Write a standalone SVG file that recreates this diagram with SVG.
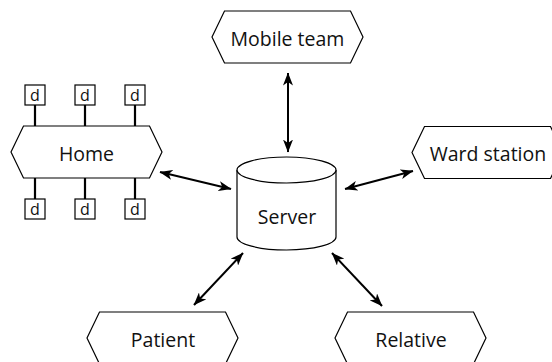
<svg xmlns="http://www.w3.org/2000/svg" xmlns:xlink="http://www.w3.org/1999/xlink" width="552" height="362" viewBox="0 0 552 362">
  <style>
    .shape { fill: #ffffff; stroke: #000000; stroke-width: 1.2; }
    .label { font-family: "Open Sans", "Noto Sans", "Liberation Sans", sans-serif; font-size: 19.5px; fill: #111111; text-anchor: middle; }
    .dev { font-family: "Open Sans", "Noto Sans", "Liberation Sans", sans-serif; font-size: 16px; fill: #111111; text-anchor: middle; }
    .stub { stroke: #000000; stroke-width: 2.2; fill: none; }
    .link { stroke: #000000; stroke-width: 2; fill: none; marker-start: url(#arrow); marker-end: url(#arrow); }
  </style>
  <defs>
    <!-- 151 x 52 hexagonal terminal shape -->
    <polygon id="hex" points="0,26 12.5,0 138.5,0 151,26 138.5,52 12.5,52"/>
    <marker id="arrow" viewBox="0 0 13 10" refX="12.5" refY="5" markerWidth="13" markerHeight="10" markerUnits="userSpaceOnUse" orient="auto-start-reverse">
      <path d="M0,0 L13,5 L0,10 L3.5,5 Z" fill="#000000"/>
    </marker>
  </defs>

  <rect width="552" height="362" fill="#ffffff"/>

  <!-- connectors -->
  <g id="connectors">
    <line class="link" x1="288" y1="73" x2="288" y2="152"/>
    <line class="link" x1="160" y1="172" x2="231" y2="189"/>
    <line class="link" x1="345" y1="189" x2="413" y2="171"/>
    <line class="link" x1="243" y1="253" x2="194" y2="305"/>
    <line class="link" x1="332" y1="253" x2="382" y2="306"/>
  </g>

  <g id="mobile-team">
    <use xlink:href="#hex" class="shape" x="212" y="11"/>
    <text class="label" x="287.5" y="46">Mobile team</text>
  </g>

  <g id="home">
    <!-- device stubs -->
    <path class="stub" d="M35,105 V126 M85,105 V126 M135,105 V126 M35,178 V199 M85,178 V199 M135,178 V199"/>
    <use xlink:href="#hex" class="shape" x="11" y="126"/>
    <text class="label" x="86.5" y="161">Home</text>
    <g id="home-devices">
      <rect class="shape" x="25" y="85" width="20" height="20"/>
      <rect class="shape" x="75" y="85" width="20" height="20"/>
      <rect class="shape" x="125" y="85" width="20" height="20"/>
      <rect class="shape" x="25" y="199" width="20" height="20"/>
      <rect class="shape" x="75" y="199" width="20" height="20"/>
      <rect class="shape" x="125" y="199" width="20" height="20"/>
      <text class="dev" x="35" y="101">d</text>
      <text class="dev" x="85" y="101">d</text>
      <text class="dev" x="135" y="101">d</text>
      <text class="dev" x="35" y="215">d</text>
      <text class="dev" x="85" y="215">d</text>
      <text class="dev" x="135" y="215">d</text>
    </g>
  </g>

  <g id="server">
    <path class="shape" d="M237,170 V237 A49.5,13 0 0 0 336,237 V170"/>
    <ellipse class="shape" cx="286.5" cy="170" rx="49.5" ry="13"/>
    <text class="label" x="287" y="224">Server</text>
  </g>

  <g id="ward-station">
    <use xlink:href="#hex" class="shape" x="412" y="126.5"/>
    <text class="label" x="488" y="160.5">Ward station</text>
  </g>

  <g id="patient">
    <use xlink:href="#hex" class="shape" x="87" y="312"/>
    <text class="label" x="163" y="347">Patient</text>
  </g>

  <g id="relative">
    <use xlink:href="#hex" class="shape" x="335" y="312"/>
    <text class="label" x="411" y="347">Relative</text>
  </g>
</svg>
